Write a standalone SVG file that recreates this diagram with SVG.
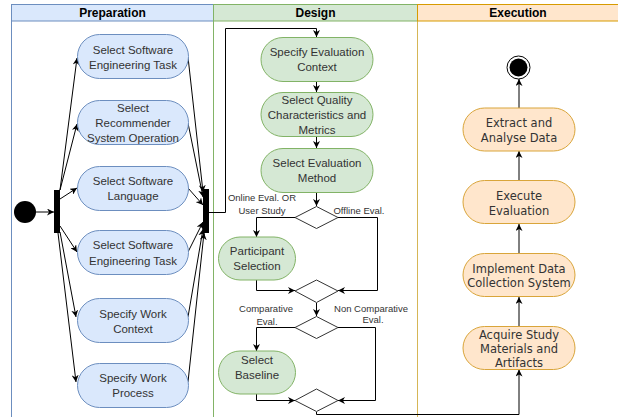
<svg xmlns="http://www.w3.org/2000/svg" width="618" height="417" viewBox="0 0 618 417">
<defs>
<marker id="arr" viewBox="0 0 10 10" refX="10" refY="5" markerWidth="7" markerHeight="7" orient="auto" markerUnits="userSpaceOnUse">
<path d="M0,0 L10,5 L0,10 L3,5 z" fill="#000"/>
</marker>
</defs>
<style>
.hdr{font-family:"Liberation Sans",Arial,sans-serif;font-size:12px;font-weight:bold;fill:#000;text-anchor:middle}
.t{font-family:"Liberation Sans",Arial,sans-serif;font-size:11.5px;fill:#333;text-anchor:middle}
.tx{font-family:"DejaVu Sans",Verdana,sans-serif;font-size:11.5px;fill:#333;text-anchor:middle}
.lbl{font-family:"Liberation Sans",Arial,sans-serif;font-size:9.5px;fill:#333;text-anchor:middle}
.prep{fill:#dae8fc;stroke:#6c8ebf;stroke-width:1}
.des{fill:#d5e8d4;stroke:#82b366;stroke-width:1}
.exe{fill:#ffe6cc;stroke:#d9a53a;stroke-width:1}
.dia{fill:#fff;stroke:#333;stroke-width:1}
.e{fill:none;stroke:#000;stroke-width:1;marker-end:url(#arr)}
.el{fill:none;stroke:#000;stroke-width:1}
</style>
<rect width="618" height="417" fill="#fff"/>
<g id="lanes">
<rect x="11.5" y="4.5" width="202" height="420" fill="#fff" stroke="#6c8ebf"/>
<rect x="11.5" y="4.5" width="202" height="16.5" fill="#dae8fc" stroke="#6c8ebf"/>
<text class="hdr" x="112.5" y="17">Preparation</text>
<rect x="213.5" y="4.5" width="204" height="420" fill="#fff" stroke="#82b366"/>
<rect x="213.5" y="4.5" width="204" height="16.5" fill="#d5e8d4" stroke="#82b366"/>
<text class="hdr" x="315.5" y="17">Design</text>
<rect x="417.5" y="4.5" width="210" height="420" fill="#fff" stroke="#d6b656"/>
<rect x="417.5" y="4.5" width="210" height="16.5" fill="#ffe6cc" stroke="#d79b00"/>
<text class="hdr" x="518" y="17">Execution</text>
</g>
<g id="connectors">
<path class="e" d="M36,212 H54"/>
<path class="e" d="M60,190 L77,58"/>
<path class="e" d="M60,190 L77,124"/>
<path class="e" d="M60,199 L77,188"/>
<path class="e" d="M60,226 L77,252"/>
<path class="e" d="M60,232 L76,317"/>
<path class="e" d="M58,233 L76,382"/>
<path class="e" d="M188,57 L203,192"/>
<path class="e" d="M188,123 L203,197"/>
<path class="e" d="M188,188 L203,205"/>
<path class="e" d="M188,252 L203,222"/>
<path class="e" d="M188,317 L203,229"/>
<path class="e" d="M188,382 L204,233"/>
<path class="e" d="M209,212.5 H225.5 V28.5 H316.5 V37"/>
<path class="e" d="M316.5,81 V92"/>
<path class="e" d="M316.5,136 V148"/>
<path class="e" d="M316.5,192 V206"/>
<path class="e" d="M295,217.5 H256.5 V237"/>
<path class="e" d="M338,217.5 H377.5 V290.5 H338"/>
<path class="e" d="M256.5,280 V290.5 H295"/>
<path class="e" d="M316.5,303 V316"/>
<path class="e" d="M295,327.5 H256.5 V351"/>
<path class="e" d="M338,327.5 H375.5 V400.5 H338"/>
<path class="e" d="M256.5,394 V400.5 H295"/>
<path class="e" d="M316.5,412 V414.5 H519 V369.5"/>
<path class="e" d="M519,326 V297"/>
<path class="e" d="M519,253 V224"/>
<path class="e" d="M519,180 V151"/>
<path class="e" d="M519,108 V79"/>
</g>
<g id="start"><circle cx="25" cy="212" r="11" fill="#000"/></g>
<g id="fork"><rect x="54" y="190" width="6" height="43" fill="#000"/></g>
<g id="join"><rect x="203" y="189" width="6" height="44" fill="#000"/></g>
<g id="p1"><rect class="prep" x="77.5" y="34.5" width="111" height="44" rx="22"/><text class="t" x="133" y="53.5">Select Software</text><text class="t" x="133" y="68.5">Engineering Task</text></g>
<g id="p2"><rect class="prep" x="77.5" y="100.5" width="111" height="44" rx="22"/><text class="t" x="133" y="112">Select</text><text class="t" x="133" y="126.5">Recommender</text><text class="t" x="133" y="141.5">System Operation</text></g>
<g id="p3"><rect class="prep" x="77.5" y="166.5" width="111" height="44" rx="22"/><text class="t" x="133" y="185">Select Software</text><text class="t" x="133" y="200">Language</text></g>
<g id="p4"><rect class="prep" x="77.5" y="230.5" width="111" height="44" rx="22"/><text class="t" x="133" y="249">Select Software</text><text class="t" x="133" y="264.5">Engineering Task</text></g>
<g id="p5"><rect class="prep" x="77.5" y="298.5" width="111" height="44" rx="22"/><text class="t" x="133" y="317.5">Specify Work</text><text class="t" x="133" y="332.5">Context</text></g>
<g id="p6"><rect class="prep" x="77.5" y="363.5" width="111" height="44" rx="22"/><text class="t" x="133" y="382">Specify Work</text><text class="t" x="133" y="397">Process</text></g>
<g id="d1"><rect class="des" x="261" y="37.5" width="112" height="44" rx="22"/><text class="t" x="317" y="56">Specify Evaluation</text><text class="t" x="317" y="70.5">Context</text></g>
<g id="d2"><rect class="des" x="261" y="92.5" width="112" height="44" rx="22"/><text class="t" x="317" y="104">Select Quality</text><text class="t" x="317" y="118.5">Characteristics and</text><text class="t" x="317" y="133.5">Metrics</text></g>
<g id="d3"><rect class="des" x="261" y="148.5" width="112" height="44" rx="22"/><text class="t" x="317" y="167">Select Evaluation</text><text class="t" x="317" y="181.5">Method</text></g>
<g id="dec1"><path class="dia" d="M316.5,206.5 L338,217.5 L316.5,228.5 L295,217.5 Z"/></g>
<g id="d4"><rect class="des" x="218.5" y="237" width="77" height="43" rx="21.5"/><text class="t" x="257" y="255">Participant</text><text class="t" x="257" y="270">Selection</text></g>
<g id="dec2"><path class="dia" d="M316.5,280 L338,291 L316.5,302.5 L295,291 Z"/></g>
<g id="dec3"><path class="dia" d="M316.5,316.5 L338,327.5 L316.5,338.5 L295,327.5 Z"/></g>
<g id="d5"><rect class="des" x="218.5" y="351" width="77" height="43" rx="21.5"/><text class="t" x="257" y="363.5">Select</text><text class="t" x="257" y="378.5">Baseline</text></g>
<g id="dec4"><path class="dia" d="M316.5,389 L338,400.5 L316.5,411.5 L295,400.5 Z"/></g>
<g id="labels">
<text class="lbl" x="262" y="200.5">Online Eval. OR</text>
<text class="lbl" x="262" y="213.5">User Study</text>
<text class="lbl" x="359" y="213.5">Offline Eval.</text>
<text class="lbl" x="266" y="312">Comparative</text>
<text class="lbl" x="267" y="324.5">Eval.</text>
<text class="lbl" x="371" y="311.5">Non Comparative</text>
<text class="lbl" x="373" y="323">Eval.</text>
</g>
<g id="x1"><rect class="exe" x="463" y="326.5" width="112" height="43" rx="21.5"/><text class="tx" x="519" y="339">Acquire Study</text><text class="tx" x="519" y="352.5">Materials and</text><text class="tx" x="519" y="366.5">Artifacts</text></g>
<g id="x2"><rect class="exe" x="463" y="253.5" width="112" height="43" rx="21.5"/><text class="tx" x="519" y="272.5">Implement Data</text><text class="tx" x="519" y="287">Collection System</text></g>
<g id="x3"><rect class="exe" x="463" y="180.5" width="112" height="43" rx="21.5"/><text class="tx" x="519" y="200">Execute</text><text class="tx" x="519" y="215">Evaluation</text></g>
<g id="x4"><rect class="exe" x="463" y="108" width="112" height="43" rx="21.5"/><text class="tx" x="519" y="127">Extract and</text><text class="tx" x="519" y="142">Analyse Data</text></g>
<g id="end"><circle cx="518.5" cy="67.5" r="11.5" fill="#fff" stroke="#000" stroke-width="1"/><circle cx="518.5" cy="67.5" r="9" fill="#000"/></g>
</svg>
